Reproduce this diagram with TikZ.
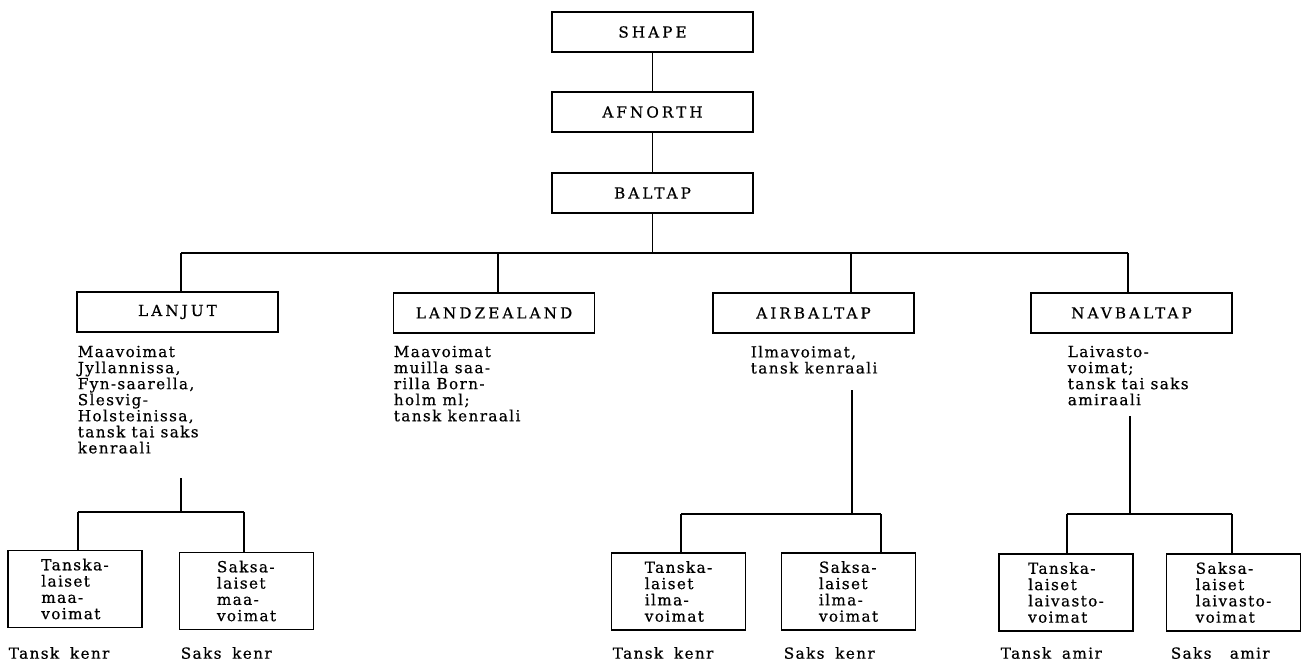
\documentclass[tikz,border=0pt]{standalone}
\usepackage{fontspec}
\setmainfont{DejaVu Serif}[LetterSpace=9,FakeBold=0.6]
\newfontfamily\capsfont{DejaVu Serif}[LetterSpace=20,FakeBold=0.6]
\begin{document}
\begin{tikzpicture}[x=0.03cm, y=-0.03cm, line width=1.4pt,
    unit/.style={draw, inner sep=0pt, minimum width=6.03cm, minimum height=1.2cm,
      font=\capsfont\fontsize{13}{13.7}\selectfont},
    troop/.style={draw, inner sep=0pt, minimum width=4.02cm, minimum height=2.31cm,
      align=left, font=\fontsize{13}{13.9}\selectfont},
    note/.style={inner sep=0pt, anchor=north west, align=left,
      font=\fontsize{13}{13.7}\selectfont},
    chief/.style={inner sep=0pt, anchor=west, font=\fontsize{13}{13.7}\selectfont}]
  \useasboundingbox (0,0) rectangle (1301,666);

  % command chain
  \node[unit] (shape) at (652.5,32) {SHAPE};
  \node[unit] (afnorth) at (652.5,112) {AFNORTH};
  \node[unit] (baltap) at (652.5,193) {BALTAP};
  \draw (shape) -- (afnorth);
  \draw (afnorth) -- (baltap);

  % the four commands under BALTAP
  \node[unit] (lanjut) at (177.5,312) {LANJUT};
  \node[unit] (landz) at (494,313) {LANDZEALAND};
  \node[unit] (airb) at (813.5,313) {AIRBALTAP};
  \node[unit] (navb) at (1131.5,313) {NAVBALTAP};

  \coordinate (bus) at (652.5,253);
  \coordinate (b1) at (181,253);
  \coordinate (b2) at (498,253);
  \coordinate (b3) at (851,253);
  \coordinate (b4) at (1128,253);
  \draw (baltap) -- (bus);
  \draw (b1) -- (b4);
  \draw (b1) -- (b1 |- lanjut.north);
  \draw (b2) -- (b2 |- landz.north);
  \draw (b3) -- (b3 |- airb.north);
  \draw (b4) -- (b4 |- navb.north);

  \node[note] (ljtext) at (77,345) {Maavoimat\\Jyllannissa,\\Fyn-saarella,\\Slesvig-\\Holsteinissa,\\tansk tai saks\\kenraali};
  \node[note] (lztext) at (393,345) {Maavoimat\\muilla saa-\\rilla Born-\\holm ml;\\tansk kenraali};
  \node[note] (abtext) at (750,345) {Ilmavoimat,\\tansk kenraali};
  \node[note] (nbtext) at (1067,345) {Laivasto-\\voimat;\\tansk tai saks\\amiraali};

  % LANJUT
  \node[troop] (tmaa) at (75,589) {Tanska-\\laiset\\maa-\\voimat};
  \node[troop] (smaa) at (246.5,591) {Saksa-\\laiset\\maa-\\voimat};
  \coordinate (ljv) at (181,478);
  \coordinate (ljbus) at (181,512);
  \coordinate (lj1) at (78,512);
  \coordinate (lj2) at (244,512);
  \draw (ljv) -- (ljbus);
  \draw (lj1) -- (lj2);
  \draw (lj1) -- (lj1 |- tmaa.north);
  \draw (lj2) -- (lj2 |- smaa.north);

  % AIRBALTAP
  \node[troop] (tilma) at (678.5,591.5) {Tanska-\\laiset\\ilma-\\voimat};
  \node[troop] (silma) at (848.5,591.5) {Saksa-\\laiset\\ilma-\\voimat};
  \coordinate (abv) at (852,390);
  \coordinate (abbus) at (852,514);
  \coordinate (ab1) at (681,514);
  \coordinate (ab2) at (881,514);
  \draw (abv) -- (abbus);
  \draw (ab1) -- (ab2);
  \draw (ab1) -- (ab1 |- tilma.north);
  \draw (ab2) -- (ab2 |- silma.north);

  % NAVBALTAP
  \node[troop] (tlaiv) at (1066,592.5) {Tanska-\\laiset\\laivasto-\\voimat};
  \node[troop] (slaiv) at (1233.5,592.5) {Saksa-\\laiset\\laivasto-\\voimat};
  \coordinate (nbv) at (1130,416);
  \coordinate (nbbus) at (1130,514);
  \coordinate (nb1) at (1067,514);
  \coordinate (nb2) at (1232,514);
  \draw (nbv) -- (nbbus);
  \draw (nb1) -- (nb2);
  \draw (nb1) -- (nb1 |- tlaiv.north);
  \draw (nb2) -- (nb2 |- slaiv.north);

  % commanders
  \node[chief] (c1) at (8,653) {Tansk\hspace{0.3em} kenr};
  \node[chief] (c2) at (180,653) {Saks\hspace{0.3em} kenr};
  \node[chief] (c3) at (612,653) {Tansk\hspace{0.3em} kenr};
  \node[chief] (c4) at (783,653) {Saks\hspace{0.3em} kenr};
  \node[chief] (c5) at (1000,653) {Tansk\hspace{0.3em} amir};
  \node[chief] (c6) at (1170,653) {Saks\hspace{0.8em} amir};
\end{tikzpicture}
\end{document}
